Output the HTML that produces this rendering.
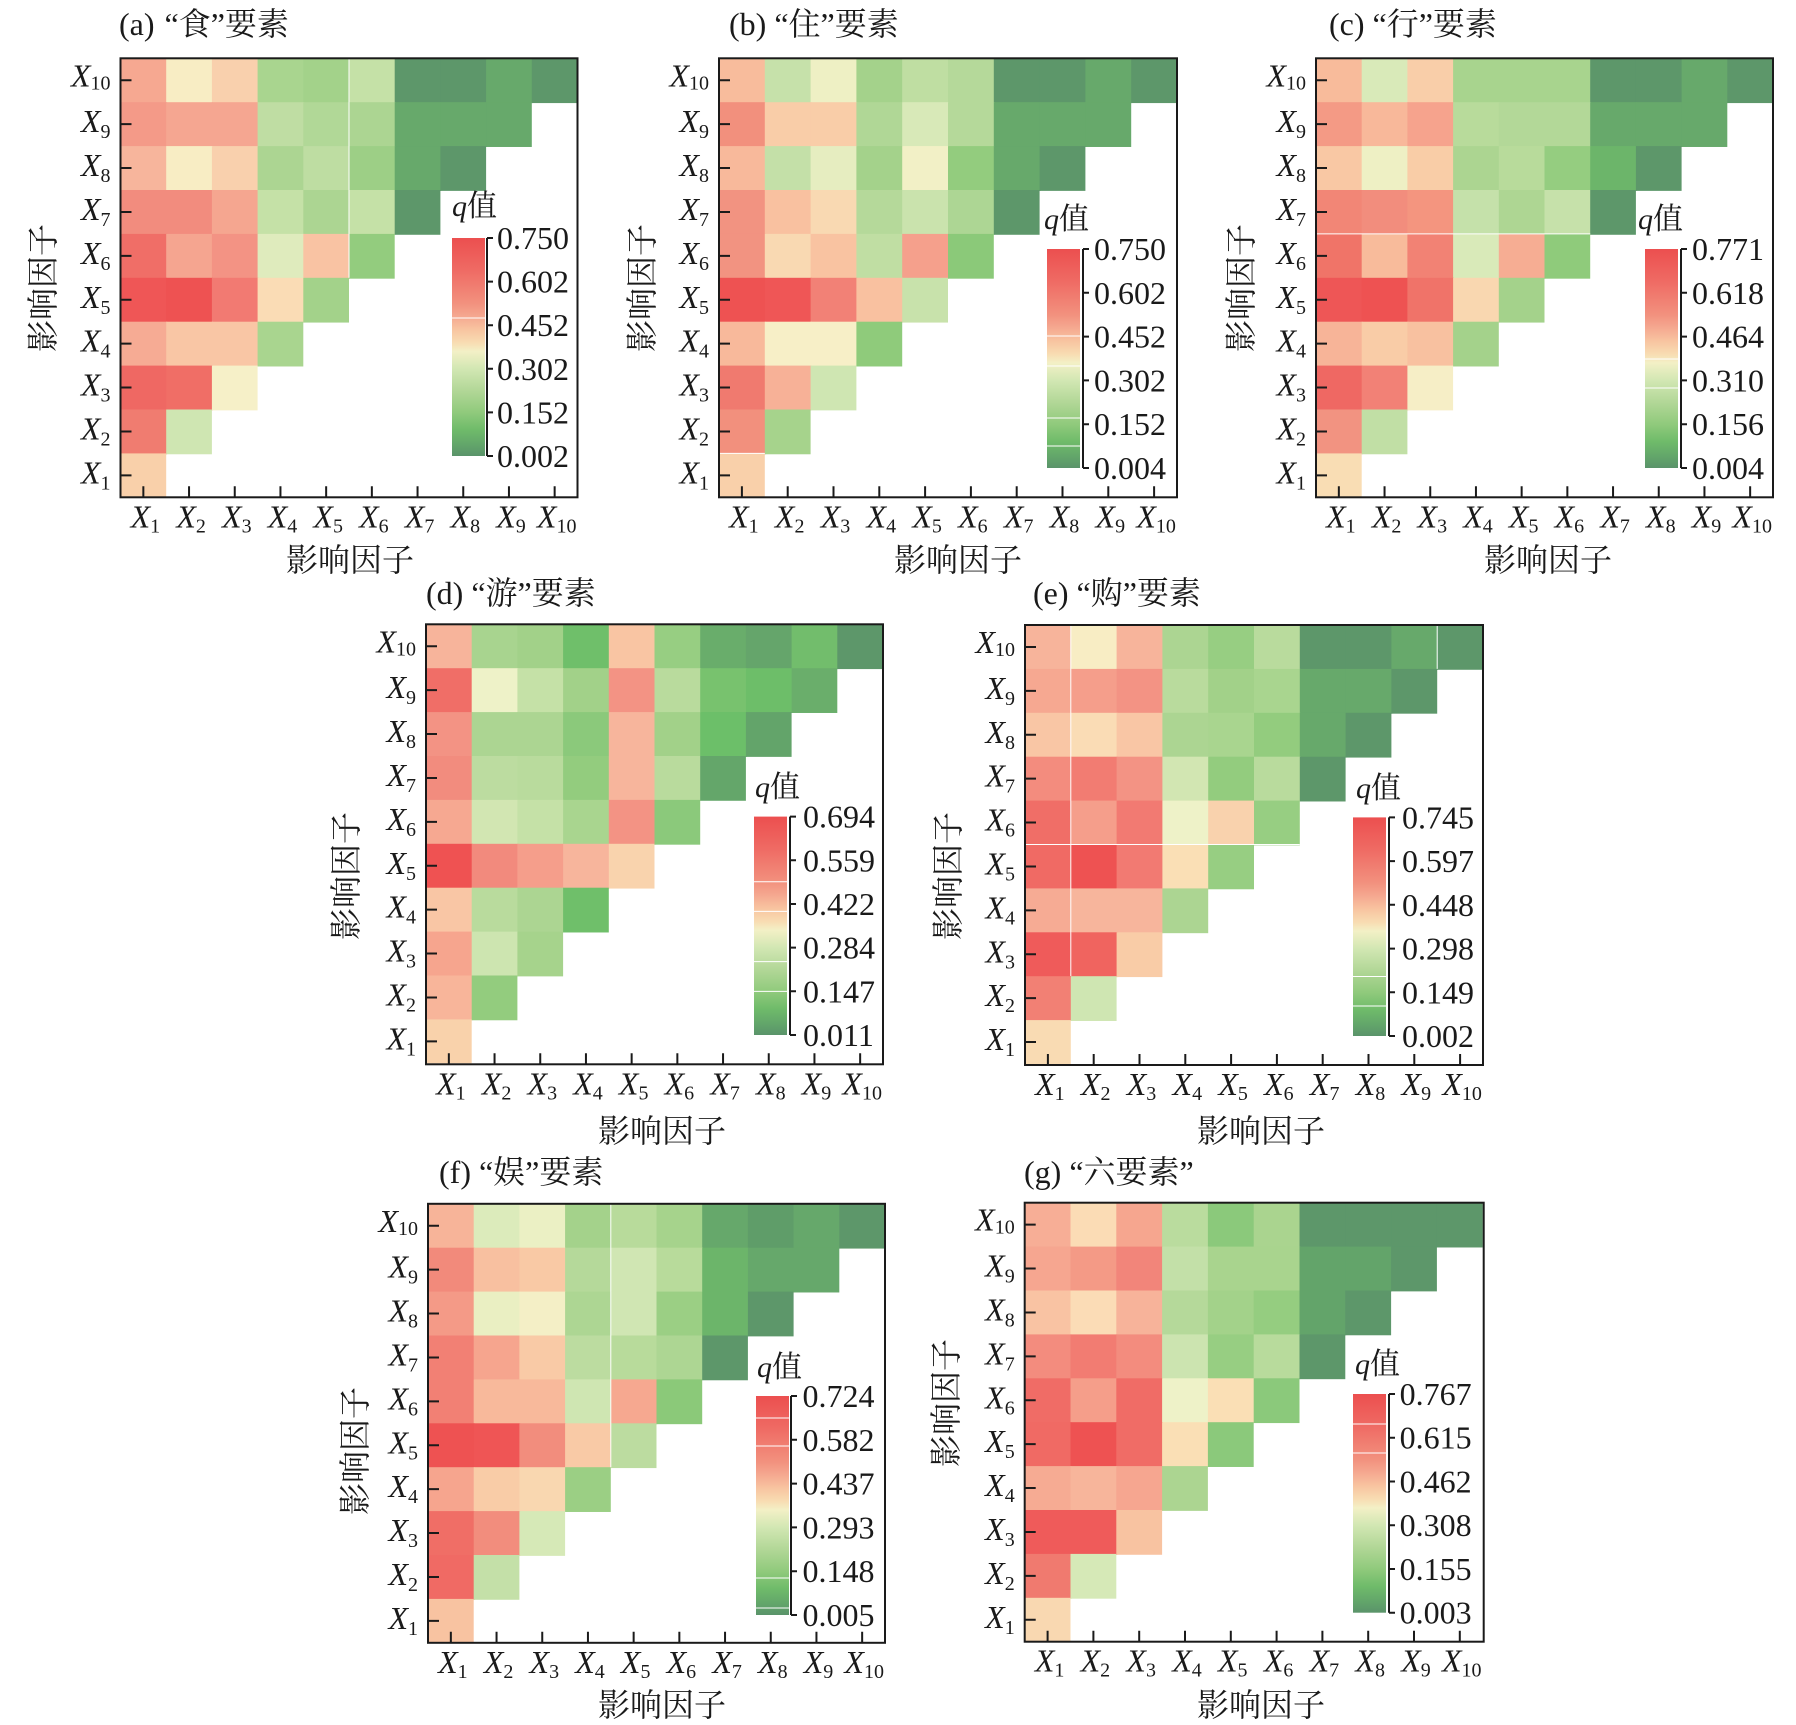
<!DOCTYPE html>
<html><head><meta charset="utf-8"><style>
html,body{margin:0;padding:0;background:#fff}
svg{display:block}
text{font-family:"Liberation Serif","Noto Serif CJK SC",serif;fill:#1a1a1a}
.cj{font-family:"Liberation Serif","Noto Serif CJK SC",serif}
.lb{font-size:32px}
.it{font-style:italic}
</style></head><body>
<svg width="1796" height="1725" viewBox="0 0 1796 1725" xmlns="http://www.w3.org/2000/svg">
<defs>
<linearGradient id="cg" x1="0" y1="0" x2="0" y2="1">
<stop offset="0" stop-color="#ec4f4f"/>
<stop offset="0.15" stop-color="#ef6b64"/>
<stop offset="0.30" stop-color="#f2917e"/>
<stop offset="0.36" stop-color="#f5a890"/>
<stop offset="0.42" stop-color="#f8c4a0"/>
<stop offset="0.48" stop-color="#f8dcb2"/>
<stop offset="0.52" stop-color="#f3f0c6"/>
<stop offset="0.60" stop-color="#d2e7b3"/>
<stop offset="0.70" stop-color="#b2d797"/>
<stop offset="0.80" stop-color="#90ca7c"/>
<stop offset="0.88" stop-color="#6fbb6a"/>
<stop offset="0.95" stop-color="#62a56a"/>
<stop offset="1" stop-color="#5a936a"/>
</linearGradient>
</defs>

<!-- ================= PANEL A ================= -->
<text x="119" y="35" style="font-size:32px">(a)<tspan dx="10">“食”要素</tspan></text>
<g transform="translate(120.5,58.3)">
<g transform="scale(45.7,43.9)">
<rect x="0" y="0" width="1.02" height="1.02" fill="#f6a891"/><rect x="1" y="0" width="1.02" height="1.02" fill="#f8edc4"/><rect x="2" y="0" width="1.02" height="1.02" fill="#f9d0ad"/><rect x="3" y="0" width="1.02" height="1.02" fill="#a9d58f"/><rect x="4" y="0" width="1.02" height="1.02" fill="#a3d28a"/><rect x="5" y="0" width="1.02" height="1.02" fill="#c5e1a7"/><rect x="6" y="0" width="1.02" height="1.02" fill="#5d976a"/><rect x="7" y="0" width="1.02" height="1.02" fill="#5d976a"/><rect x="8" y="0" width="1.02" height="1.02" fill="#67a96b"/><rect x="9" y="0" width="1" height="1.02" fill="#5d976a"/>
<rect x="0" y="1" width="1.02" height="1.02" fill="#f49a88"/><rect x="1" y="1" width="1.02" height="1.02" fill="#f5a691"/><rect x="2" y="1" width="1.02" height="1.02" fill="#f5a691"/><rect x="3" y="1" width="1.02" height="1.02" fill="#bfdda3"/><rect x="4" y="1" width="1.02" height="1.02" fill="#b1d897"/><rect x="5" y="1" width="1.02" height="1.02" fill="#acd592"/><rect x="6" y="1" width="1.02" height="1.02" fill="#67a96b"/><rect x="7" y="1" width="1.02" height="1.02" fill="#67a96b"/><rect x="8" y="1" width="1" height="1.02" fill="#67a96b"/>
<rect x="0" y="2" width="1.02" height="1.02" fill="#f7b59c"/><rect x="1" y="2" width="1.02" height="1.02" fill="#f8edc4"/><rect x="2" y="2" width="1.02" height="1.02" fill="#f9d0ad"/><rect x="3" y="2" width="1.02" height="1.02" fill="#acd592"/><rect x="4" y="2" width="1.02" height="1.02" fill="#bedda2"/><rect x="5" y="2" width="1.02" height="1.02" fill="#9dcf86"/><rect x="6" y="2" width="1.02" height="1.02" fill="#67a96b"/><rect x="7" y="2" width="1" height="1.02" fill="#5d976a"/>
<rect x="0" y="3" width="1.02" height="1.02" fill="#f28c7e"/><rect x="1" y="3" width="1.02" height="1.02" fill="#f28c7e"/><rect x="2" y="3" width="1.02" height="1.02" fill="#f5a690"/><rect x="3" y="3" width="1.02" height="1.02" fill="#c5e1a7"/><rect x="4" y="3" width="1.02" height="1.02" fill="#acd592"/><rect x="5" y="3" width="1.02" height="1.02" fill="#c5e1a7"/><rect x="6" y="3" width="1" height="1.02" fill="#5d976a"/>
<rect x="0" y="4" width="1.02" height="1.02" fill="#f06e67"/><rect x="1" y="4" width="1.02" height="1.02" fill="#f5a590"/><rect x="2" y="4" width="1.02" height="1.02" fill="#f39384"/><rect x="3" y="4" width="1.02" height="1.02" fill="#dfebbd"/><rect x="4" y="4" width="1.02" height="1.02" fill="#f9c3a3"/><rect x="5" y="4" width="1" height="1.02" fill="#93cc7e"/>
<rect x="0" y="5" width="1.02" height="1.02" fill="#ef5656"/><rect x="1" y="5" width="1.02" height="1.02" fill="#ee5252"/><rect x="2" y="5" width="1.02" height="1.02" fill="#f27a72"/><rect x="3" y="5" width="1.02" height="1.02" fill="#fadcb5"/><rect x="4" y="5" width="1" height="1.02" fill="#a3d28a"/>
<rect x="0" y="6" width="1.02" height="1.02" fill="#f6ab94"/><rect x="1" y="6" width="1.02" height="1.02" fill="#f9c6a5"/><rect x="2" y="6" width="1.02" height="1.02" fill="#f9c6a5"/><rect x="3" y="6" width="1" height="1.02" fill="#a9d58f"/>
<rect x="0" y="7" width="1.02" height="1.02" fill="#ef6863"/><rect x="1" y="7" width="1.02" height="1.02" fill="#f06e66"/><rect x="2" y="7" width="1" height="1.02" fill="#f6f0c8"/>
<rect x="0" y="8" width="1.02" height="1.02" fill="#f07c70"/><rect x="1" y="8" width="1" height="1.02" fill="#cfe6b2"/>
<rect x="0" y="9" width="1" height="1" fill="#f9d0aa"/>
</g>
<path d="M228.5,0V219.5" stroke="#fff" stroke-width="1"/>
<rect x="0" y="0" width="457" height="439" fill="none" stroke="#1a1a1a" stroke-width="2"/>
<path d="M0,21.95h11M0,65.85h11M0,109.75h11M0,153.65h11M0,197.55h11M0,241.45h11M0,285.35h11M0,329.25h11M0,373.15h11M0,417.05h11M22.85,439v-11M68.55,439v-11M114.25,439v-11M159.95,439v-11M205.65,439v-11M251.35,439v-11M297.05,439v-11M342.75,439v-11M388.45,439v-11M434.15,439v-11" stroke="#1a1a1a" stroke-width="2"/>
<g class="lb" text-anchor="end">
<text x="-10" y="28"><tspan class="it">X</tspan><tspan font-size="20" dy="3">10</tspan></text>
<text x="-10" y="73.9"><tspan class="it">X</tspan><tspan font-size="20" dy="6">9</tspan></text>
<text x="-10" y="117.8"><tspan class="it">X</tspan><tspan font-size="20" dy="6">8</tspan></text>
<text x="-10" y="161.7"><tspan class="it">X</tspan><tspan font-size="20" dy="6">7</tspan></text>
<text x="-10" y="205.6"><tspan class="it">X</tspan><tspan font-size="20" dy="6">6</tspan></text>
<text x="-10" y="249.5"><tspan class="it">X</tspan><tspan font-size="20" dy="6">5</tspan></text>
<text x="-10" y="293.4"><tspan class="it">X</tspan><tspan font-size="20" dy="6">4</tspan></text>
<text x="-10" y="337.3"><tspan class="it">X</tspan><tspan font-size="20" dy="6">3</tspan></text>
<text x="-10" y="381.2"><tspan class="it">X</tspan><tspan font-size="20" dy="6">2</tspan></text>
<text x="-10" y="425.1"><tspan class="it">X</tspan><tspan font-size="20" dy="6">1</tspan></text>
</g>
<g class="lb" text-anchor="middle">
<text x="24.9" y="469"><tspan class="it">X</tspan><tspan font-size="20" dy="5">1</tspan></text>
<text x="70.6" y="469"><tspan class="it">X</tspan><tspan font-size="20" dy="5">2</tspan></text>
<text x="116.3" y="469"><tspan class="it">X</tspan><tspan font-size="20" dy="5">3</tspan></text>
<text x="162" y="469"><tspan class="it">X</tspan><tspan font-size="20" dy="5">4</tspan></text>
<text x="207.7" y="469"><tspan class="it">X</tspan><tspan font-size="20" dy="5">5</tspan></text>
<text x="253.4" y="469"><tspan class="it">X</tspan><tspan font-size="20" dy="5">6</tspan></text>
<text x="299.1" y="469"><tspan class="it">X</tspan><tspan font-size="20" dy="5">7</tspan></text>
<text x="344.8" y="469"><tspan class="it">X</tspan><tspan font-size="20" dy="5">8</tspan></text>
<text x="390.5" y="469"><tspan class="it">X</tspan><tspan font-size="20" dy="5">9</tspan></text>
<text x="436.2" y="469"><tspan class="it">X</tspan><tspan font-size="20" dy="5">10</tspan></text>
</g>
</g>
<text class="cj" x="350" y="571" text-anchor="middle" style="font-size:32px">影响因子</text>
<text class="cj" transform="translate(43,288) rotate(-90)" y="11" text-anchor="middle" style="font-size:32px">影响因子</text>
<text x="452" y="216" style="font-size:30px"><tspan class="it">q</tspan>值</text>
<rect x="452" y="238" width="33" height="218" fill="url(#cg)"/>
<path d="M452,318h33" stroke="#fff" stroke-width="1"/>
<path d="M487,238V456M487,238h6M487,281.6h6M487,325.2h6M487,368.8h6M487,412.4h6M487,456h6" stroke="#1a1a1a" stroke-width="2" fill="none"/>
<g class="lb"><text x="497" y="249">0.750</text><text x="497" y="292.6">0.602</text><text x="497" y="336.2">0.452</text><text x="497" y="379.8">0.302</text><text x="497" y="423.4">0.152</text><text x="497" y="467">0.002</text></g>

<!-- ================= PANEL B ================= -->
<text x="729" y="35" style="font-size:32px">(b) “住”要素</text>
<g transform="translate(719,58.3)">
<g transform="scale(45.8,43.9)">
<rect x="0" y="0" width="1.02" height="1.02" fill="#f8bc9c"/><rect x="1" y="0" width="1.02" height="1.02" fill="#c6e1aa"/><rect x="2" y="0" width="1.02" height="1.02" fill="#eef0c4"/><rect x="3" y="0" width="1.02" height="1.02" fill="#a4d28b"/><rect x="4" y="0" width="1.02" height="1.02" fill="#bfdea2"/><rect x="5" y="0" width="1.02" height="1.02" fill="#b5d99a"/><rect x="6" y="0" width="1.02" height="1.02" fill="#5d976a"/><rect x="7" y="0" width="1.02" height="1.02" fill="#5d976a"/><rect x="8" y="0" width="1.02" height="1.02" fill="#67a96b"/><rect x="9" y="0" width="1" height="1.02" fill="#5d976a"/>
<rect x="0" y="1" width="1.02" height="1.02" fill="#f2907d"/><rect x="1" y="1" width="1.02" height="1.02" fill="#f9cda8"/><rect x="2" y="1" width="1.02" height="1.02" fill="#f9cda8"/><rect x="3" y="1" width="1.02" height="1.02" fill="#b0d796"/><rect x="4" y="1" width="1.02" height="1.02" fill="#d8e9b8"/><rect x="5" y="1" width="1.02" height="1.02" fill="#b5d99a"/><rect x="6" y="1" width="1.02" height="1.02" fill="#67a96b"/><rect x="7" y="1" width="1.02" height="1.02" fill="#67a96b"/><rect x="8" y="1" width="1" height="1.02" fill="#67a96b"/>
<rect x="0" y="2" width="1.02" height="1.02" fill="#f8b99b"/><rect x="1" y="2" width="1.02" height="1.02" fill="#c4e0a8"/><rect x="2" y="2" width="1.02" height="1.02" fill="#e6edc0"/><rect x="3" y="2" width="1.02" height="1.02" fill="#a4d28b"/><rect x="4" y="2" width="1.02" height="1.02" fill="#f2f0c6"/><rect x="5" y="2" width="1.02" height="1.02" fill="#93cc7e"/><rect x="6" y="2" width="1.02" height="1.02" fill="#67a96b"/><rect x="7" y="2" width="1" height="1.02" fill="#5d976a"/>
<rect x="0" y="3" width="1.02" height="1.02" fill="#f29381"/><rect x="1" y="3" width="1.02" height="1.02" fill="#f9c1a0"/><rect x="2" y="3" width="1.02" height="1.02" fill="#f9d9b2"/><rect x="3" y="3" width="1.02" height="1.02" fill="#b5d99a"/><rect x="4" y="3" width="1.02" height="1.02" fill="#cae3ad"/><rect x="5" y="3" width="1.02" height="1.02" fill="#add694"/><rect x="6" y="3" width="1" height="1.02" fill="#5d976a"/>
<rect x="0" y="4" width="1.02" height="1.02" fill="#f29381"/><rect x="1" y="4" width="1.02" height="1.02" fill="#f9d9b2"/><rect x="2" y="4" width="1.02" height="1.02" fill="#f9c3a1"/><rect x="3" y="4" width="1.02" height="1.02" fill="#c0dea3"/><rect x="4" y="4" width="1.02" height="1.02" fill="#f5a08c"/><rect x="5" y="4" width="1" height="1.02" fill="#8bc979"/>
<rect x="0" y="5" width="1.02" height="1.02" fill="#ee5252"/><rect x="1" y="5" width="1.02" height="1.02" fill="#ef5656"/><rect x="2" y="5" width="1.02" height="1.02" fill="#f28176"/><rect x="3" y="5" width="1.02" height="1.02" fill="#f9c1a0"/><rect x="4" y="5" width="1" height="1.02" fill="#c8e2ab"/>
<rect x="0" y="6" width="1.02" height="1.02" fill="#f8b99b"/><rect x="1" y="6" width="1.02" height="1.02" fill="#f7efc7"/><rect x="2" y="6" width="1.02" height="1.02" fill="#f7efc7"/><rect x="3" y="6" width="1" height="1.02" fill="#8fcb7b"/>
<rect x="0" y="7" width="1.02" height="1.02" fill="#f07a6f"/><rect x="1" y="7" width="1.02" height="1.02" fill="#f7b197"/><rect x="2" y="7" width="1" height="1.02" fill="#cfe6b2"/>
<rect x="0" y="8" width="1.02" height="1.02" fill="#f2907d"/><rect x="1" y="8" width="1" height="1.02" fill="#a6d38c"/>
<rect x="0" y="9" width="1" height="1" fill="#f9d0aa"/>
</g>
<path d="M0,395.1h45.8" stroke="#fff" stroke-width="1"/>
<rect x="0" y="0" width="458" height="439" fill="none" stroke="#1a1a1a" stroke-width="2"/>
<path d="M0,21.95h11M0,65.85h11M0,109.75h11M0,153.65h11M0,197.55h11M0,241.45h11M0,285.35h11M0,329.25h11M0,373.15h11M0,417.05h11M22.9,439v-11M68.7,439v-11M114.5,439v-11M160.3,439v-11M206.1,439v-11M251.9,439v-11M297.7,439v-11M343.5,439v-11M389.3,439v-11M435.1,439v-11" stroke="#1a1a1a" stroke-width="2"/>
<g class="lb" text-anchor="end">
<text x="-10" y="28"><tspan class="it">X</tspan><tspan font-size="20" dy="3">10</tspan></text>
<text x="-10" y="73.9"><tspan class="it">X</tspan><tspan font-size="20" dy="6">9</tspan></text>
<text x="-10" y="117.8"><tspan class="it">X</tspan><tspan font-size="20" dy="6">8</tspan></text>
<text x="-10" y="161.7"><tspan class="it">X</tspan><tspan font-size="20" dy="6">7</tspan></text>
<text x="-10" y="205.6"><tspan class="it">X</tspan><tspan font-size="20" dy="6">6</tspan></text>
<text x="-10" y="249.5"><tspan class="it">X</tspan><tspan font-size="20" dy="6">5</tspan></text>
<text x="-10" y="293.4"><tspan class="it">X</tspan><tspan font-size="20" dy="6">4</tspan></text>
<text x="-10" y="337.3"><tspan class="it">X</tspan><tspan font-size="20" dy="6">3</tspan></text>
<text x="-10" y="381.2"><tspan class="it">X</tspan><tspan font-size="20" dy="6">2</tspan></text>
<text x="-10" y="425.1"><tspan class="it">X</tspan><tspan font-size="20" dy="6">1</tspan></text>
</g>
<g class="lb" text-anchor="middle">
<text x="24.9" y="469"><tspan class="it">X</tspan><tspan font-size="20" dy="5">1</tspan></text>
<text x="70.7" y="469"><tspan class="it">X</tspan><tspan font-size="20" dy="5">2</tspan></text>
<text x="116.5" y="469"><tspan class="it">X</tspan><tspan font-size="20" dy="5">3</tspan></text>
<text x="162.3" y="469"><tspan class="it">X</tspan><tspan font-size="20" dy="5">4</tspan></text>
<text x="208.1" y="469"><tspan class="it">X</tspan><tspan font-size="20" dy="5">5</tspan></text>
<text x="253.9" y="469"><tspan class="it">X</tspan><tspan font-size="20" dy="5">6</tspan></text>
<text x="299.7" y="469"><tspan class="it">X</tspan><tspan font-size="20" dy="5">7</tspan></text>
<text x="345.5" y="469"><tspan class="it">X</tspan><tspan font-size="20" dy="5">8</tspan></text>
<text x="391.3" y="469"><tspan class="it">X</tspan><tspan font-size="20" dy="5">9</tspan></text>
<text x="437.1" y="469"><tspan class="it">X</tspan><tspan font-size="20" dy="5">10</tspan></text>
</g>
</g>
<text class="cj" x="958" y="571" text-anchor="middle" style="font-size:32px">影响因子</text>
<text class="cj" transform="translate(642,288) rotate(-90)" y="11" text-anchor="middle" style="font-size:32px">影响因子</text>
<text x="1044" y="229" style="font-size:30px"><tspan class="it">q</tspan>值</text>
<rect x="1047" y="249" width="33" height="219" fill="url(#cg)"/>
<path d="M1047,336h33M1047,366h33M1047,418h33M1047,446h33" stroke="#fff" stroke-width="1"/>
<path d="M1083,249V468M1083,249h6M1083,292.8h6M1083,336.6h6M1083,380.4h6M1083,424.2h6M1083,468h6" stroke="#1a1a1a" stroke-width="2" fill="none"/>
<g class="lb"><text x="1094" y="260">0.750</text><text x="1094" y="303.8">0.602</text><text x="1094" y="347.6">0.452</text><text x="1094" y="391.4">0.302</text><text x="1094" y="435.2">0.152</text><text x="1094" y="479">0.004</text></g>

<!-- ================= PANEL C ================= -->
<text x="1329" y="35" style="font-size:32px">(c) “行”要素</text>
<g transform="translate(1316,58.3)">
<g transform="scale(45.7,43.9)">
<rect x="0" y="0" width="1.02" height="1.02" fill="#f8bb9b"/><rect x="1" y="0" width="1.02" height="1.02" fill="#d9eab9"/><rect x="2" y="0" width="1.02" height="1.02" fill="#f9cea9"/><rect x="3" y="0" width="1.02" height="1.02" fill="#a8d48e"/><rect x="4" y="0" width="1.02" height="1.02" fill="#a8d48e"/><rect x="5" y="0" width="1.02" height="1.02" fill="#a8d48e"/><rect x="6" y="0" width="1.02" height="1.02" fill="#5d976a"/><rect x="7" y="0" width="1.02" height="1.02" fill="#5d976a"/><rect x="8" y="0" width="1.02" height="1.02" fill="#67a96b"/><rect x="9" y="0" width="1" height="1.02" fill="#5d976a"/>
<rect x="0" y="1" width="1.02" height="1.02" fill="#f49a85"/><rect x="1" y="1" width="1.02" height="1.02" fill="#f8b89a"/><rect x="2" y="1" width="1.02" height="1.02" fill="#f6a38d"/><rect x="3" y="1" width="1.02" height="1.02" fill="#b8db9b"/><rect x="4" y="1" width="1.02" height="1.02" fill="#b3d898"/><rect x="5" y="1" width="1.02" height="1.02" fill="#b3d898"/><rect x="6" y="1" width="1.02" height="1.02" fill="#67a96b"/><rect x="7" y="1" width="1.02" height="1.02" fill="#67a96b"/><rect x="8" y="1" width="1" height="1.02" fill="#67a96b"/>
<rect x="0" y="2" width="1.02" height="1.02" fill="#f9c8a4"/><rect x="1" y="2" width="1.02" height="1.02" fill="#eef0c4"/><rect x="2" y="2" width="1.02" height="1.02" fill="#f9cda7"/><rect x="3" y="2" width="1.02" height="1.02" fill="#acd591"/><rect x="4" y="2" width="1.02" height="1.02" fill="#b8db9b"/><rect x="5" y="2" width="1.02" height="1.02" fill="#95cd80"/><rect x="6" y="2" width="1.02" height="1.02" fill="#6cb56a"/><rect x="7" y="2" width="1" height="1.02" fill="#5d976a"/>
<rect x="0" y="3" width="1.02" height="1.02" fill="#f28676"/><rect x="1" y="3" width="1.02" height="1.02" fill="#f28d7d"/><rect x="2" y="3" width="1.02" height="1.02" fill="#f4957f"/><rect x="3" y="3" width="1.02" height="1.02" fill="#c5e1aa"/><rect x="4" y="3" width="1.02" height="1.02" fill="#aed693"/><rect x="5" y="3" width="1.02" height="1.02" fill="#c6e1aa"/><rect x="6" y="3" width="1" height="1.02" fill="#5d976a"/>
<rect x="0" y="4" width="1.02" height="1.02" fill="#f07468"/><rect x="1" y="4" width="1.02" height="1.02" fill="#f8bb9b"/><rect x="2" y="4" width="1.02" height="1.02" fill="#f28274"/><rect x="3" y="4" width="1.02" height="1.02" fill="#d9eab9"/><rect x="4" y="4" width="1.02" height="1.02" fill="#f6ad93"/><rect x="5" y="4" width="1" height="1.02" fill="#8fcb7b"/>
<rect x="0" y="5" width="1.02" height="1.02" fill="#ee5656"/><rect x="1" y="5" width="1.02" height="1.02" fill="#ee5252"/><rect x="2" y="5" width="1.02" height="1.02" fill="#f07369"/><rect x="3" y="5" width="1.02" height="1.02" fill="#f9d7b0"/><rect x="4" y="5" width="1" height="1.02" fill="#a4d28b"/>
<rect x="0" y="6" width="1.02" height="1.02" fill="#f7b498"/><rect x="1" y="6" width="1.02" height="1.02" fill="#f9cca7"/><rect x="2" y="6" width="1.02" height="1.02" fill="#f8c1a0"/><rect x="3" y="6" width="1" height="1.02" fill="#a4d28b"/>
<rect x="0" y="7" width="1.02" height="1.02" fill="#ef6863"/><rect x="1" y="7" width="1.02" height="1.02" fill="#f28176"/><rect x="2" y="7" width="1" height="1.02" fill="#f6eec6"/>
<rect x="0" y="8" width="1.02" height="1.02" fill="#f29381"/><rect x="1" y="8" width="1" height="1.02" fill="#c1dfa5"/>
<rect x="0" y="9" width="1" height="1" fill="#f9ddb4"/>
</g>
<path d="M0,175.6h274.2" stroke="#fff" stroke-width="1"/>
<rect x="0" y="0" width="457" height="439" fill="none" stroke="#1a1a1a" stroke-width="2"/>
<path d="M0,21.95h11M0,65.85h11M0,109.75h11M0,153.65h11M0,197.55h11M0,241.45h11M0,285.35h11M0,329.25h11M0,373.15h11M0,417.05h11M22.85,439v-11M68.55,439v-11M114.25,439v-11M159.95,439v-11M205.65,439v-11M251.35,439v-11M297.05,439v-11M342.75,439v-11M388.45,439v-11M434.15,439v-11" stroke="#1a1a1a" stroke-width="2"/>
<g class="lb" text-anchor="end">
<text x="-10" y="28"><tspan class="it">X</tspan><tspan font-size="20" dy="3">10</tspan></text>
<text x="-10" y="73.9"><tspan class="it">X</tspan><tspan font-size="20" dy="6">9</tspan></text>
<text x="-10" y="117.8"><tspan class="it">X</tspan><tspan font-size="20" dy="6">8</tspan></text>
<text x="-10" y="161.7"><tspan class="it">X</tspan><tspan font-size="20" dy="6">7</tspan></text>
<text x="-10" y="205.6"><tspan class="it">X</tspan><tspan font-size="20" dy="6">6</tspan></text>
<text x="-10" y="249.5"><tspan class="it">X</tspan><tspan font-size="20" dy="6">5</tspan></text>
<text x="-10" y="293.4"><tspan class="it">X</tspan><tspan font-size="20" dy="6">4</tspan></text>
<text x="-10" y="337.3"><tspan class="it">X</tspan><tspan font-size="20" dy="6">3</tspan></text>
<text x="-10" y="381.2"><tspan class="it">X</tspan><tspan font-size="20" dy="6">2</tspan></text>
<text x="-10" y="425.1"><tspan class="it">X</tspan><tspan font-size="20" dy="6">1</tspan></text>
</g>
<g class="lb" text-anchor="middle">
<text x="24.9" y="469"><tspan class="it">X</tspan><tspan font-size="20" dy="5">1</tspan></text>
<text x="70.6" y="469"><tspan class="it">X</tspan><tspan font-size="20" dy="5">2</tspan></text>
<text x="116.3" y="469"><tspan class="it">X</tspan><tspan font-size="20" dy="5">3</tspan></text>
<text x="162" y="469"><tspan class="it">X</tspan><tspan font-size="20" dy="5">4</tspan></text>
<text x="207.7" y="469"><tspan class="it">X</tspan><tspan font-size="20" dy="5">5</tspan></text>
<text x="253.4" y="469"><tspan class="it">X</tspan><tspan font-size="20" dy="5">6</tspan></text>
<text x="299.1" y="469"><tspan class="it">X</tspan><tspan font-size="20" dy="5">7</tspan></text>
<text x="344.8" y="469"><tspan class="it">X</tspan><tspan font-size="20" dy="5">8</tspan></text>
<text x="390.5" y="469"><tspan class="it">X</tspan><tspan font-size="20" dy="5">9</tspan></text>
<text x="436.2" y="469"><tspan class="it">X</tspan><tspan font-size="20" dy="5">10</tspan></text>
</g>
</g>
<text class="cj" x="1548" y="571" text-anchor="middle" style="font-size:32px">影响因子</text>
<text class="cj" transform="translate(1241,288) rotate(-90)" y="11" text-anchor="middle" style="font-size:32px">影响因子</text>
<text x="1638" y="229" style="font-size:30px"><tspan class="it">q</tspan>值</text>
<rect x="1645" y="249" width="33" height="219" fill="url(#cg)"/>
<path d="M1645,359h33M1645,388h33" stroke="#fff" stroke-width="1"/>
<path d="M1681,249V468M1681,249h6M1681,292.8h6M1681,336.6h6M1681,380.4h6M1681,424.2h6M1681,468h6" stroke="#1a1a1a" stroke-width="2" fill="none"/>
<g class="lb"><text x="1692" y="260">0.771</text><text x="1692" y="303.8">0.618</text><text x="1692" y="347.6">0.464</text><text x="1692" y="391.4">0.310</text><text x="1692" y="435.2">0.156</text><text x="1692" y="479">0.004</text></g>

<!-- ================= PANEL D ================= -->
<text x="426" y="604" style="font-size:32px">(d) “游”要素</text>
<g transform="translate(426,624.3)">
<g transform="scale(45.7,43.9)">
<rect x="0" y="0" width="1.02" height="1.02" fill="#f7b49b"/><rect x="1" y="0" width="1.02" height="1.02" fill="#a8d48f"/><rect x="2" y="0" width="1.02" height="1.02" fill="#a2d189"/><rect x="3" y="0" width="1.02" height="1.02" fill="#6fbf6a"/><rect x="4" y="0" width="1.02" height="1.02" fill="#f9c5a3"/><rect x="5" y="0" width="1.02" height="1.02" fill="#97ce82"/><rect x="6" y="0" width="1.02" height="1.02" fill="#69ad6b"/><rect x="7" y="0" width="1.02" height="1.02" fill="#65a56b"/><rect x="8" y="0" width="1.02" height="1.02" fill="#72bd6c"/><rect x="9" y="0" width="1" height="1.02" fill="#5d976a"/>
<rect x="0" y="1" width="1.02" height="1.02" fill="#f06e67"/><rect x="1" y="1" width="1.02" height="1.02" fill="#eef2c8"/><rect x="2" y="1" width="1.02" height="1.02" fill="#c5e1a7"/><rect x="3" y="1" width="1.02" height="1.02" fill="#a2d189"/><rect x="4" y="1" width="1.02" height="1.02" fill="#f39384"/><rect x="5" y="1" width="1.02" height="1.02" fill="#b9db9d"/><rect x="6" y="1" width="1.02" height="1.02" fill="#78c26e"/><rect x="7" y="1" width="1.02" height="1.02" fill="#6dbe69"/><rect x="8" y="1" width="1" height="1.02" fill="#6aae6b"/>
<rect x="0" y="2" width="1.02" height="1.02" fill="#f39384"/><rect x="1" y="2" width="1.02" height="1.02" fill="#acd592"/><rect x="2" y="2" width="1.02" height="1.02" fill="#acd592"/><rect x="3" y="2" width="1.02" height="1.02" fill="#8bc97b"/><rect x="4" y="2" width="1.02" height="1.02" fill="#f7b59c"/><rect x="5" y="2" width="1.02" height="1.02" fill="#a2d189"/><rect x="6" y="2" width="1.02" height="1.02" fill="#6cbf69"/><rect x="7" y="2" width="1" height="1.02" fill="#63a46a"/>
<rect x="0" y="3" width="1.02" height="1.02" fill="#f28c7e"/><rect x="1" y="3" width="1.02" height="1.02" fill="#bcdca0"/><rect x="2" y="3" width="1.02" height="1.02" fill="#b9db9d"/><rect x="3" y="3" width="1.02" height="1.02" fill="#93cc7e"/><rect x="4" y="3" width="1.02" height="1.02" fill="#f7b59c"/><rect x="5" y="3" width="1.02" height="1.02" fill="#b9db9d"/><rect x="6" y="3" width="1" height="1.02" fill="#64a66a"/>
<rect x="0" y="4" width="1.02" height="1.02" fill="#f6a891"/><rect x="1" y="4" width="1.02" height="1.02" fill="#d2e6b2"/><rect x="2" y="4" width="1.02" height="1.02" fill="#c5e1a7"/><rect x="3" y="4" width="1.02" height="1.02" fill="#a9d58f"/><rect x="4" y="4" width="1.02" height="1.02" fill="#f39384"/><rect x="5" y="4" width="1" height="1.02" fill="#8bc97b"/>
<rect x="0" y="5" width="1.02" height="1.02" fill="#ef5252"/><rect x="1" y="5" width="1.02" height="1.02" fill="#f28a7d"/><rect x="2" y="5" width="1.02" height="1.02" fill="#f59e8b"/><rect x="3" y="5" width="1.02" height="1.02" fill="#f7b59c"/><rect x="4" y="5" width="1" height="1.02" fill="#f9d3ad"/>
<rect x="0" y="6" width="1.02" height="1.02" fill="#f9c6a5"/><rect x="1" y="6" width="1.02" height="1.02" fill="#b9db9d"/><rect x="2" y="6" width="1.02" height="1.02" fill="#acd592"/><rect x="3" y="6" width="1" height="1.02" fill="#6fbf6a"/>
<rect x="0" y="7" width="1.02" height="1.02" fill="#f6a58e"/><rect x="1" y="7" width="1.02" height="1.02" fill="#cde5b0"/><rect x="2" y="7" width="1" height="1.02" fill="#a6d38c"/>
<rect x="0" y="8" width="1.02" height="1.02" fill="#f8b59a"/><rect x="1" y="8" width="1" height="1.02" fill="#93cc7e"/>
<rect x="0" y="9" width="1" height="1" fill="#f9d2ab"/>
</g>
<rect x="0" y="0" width="457" height="440" fill="none" stroke="#1a1a1a" stroke-width="2"/>
<path d="M0,21.95h11M0,65.85h11M0,109.75h11M0,153.65h11M0,197.55h11M0,241.45h11M0,285.35h11M0,329.25h11M0,373.15h11M0,417.05h11M22.85,440v-11M68.55,440v-11M114.25,440v-11M159.95,440v-11M205.65,440v-11M251.35,440v-11M297.05,440v-11M342.75,440v-11M388.45,440v-11M434.15,440v-11" stroke="#1a1a1a" stroke-width="2"/>
<g class="lb" text-anchor="end">
<text x="-10" y="28"><tspan class="it">X</tspan><tspan font-size="20" dy="3">10</tspan></text>
<text x="-10" y="73.9"><tspan class="it">X</tspan><tspan font-size="20" dy="6">9</tspan></text>
<text x="-10" y="117.8"><tspan class="it">X</tspan><tspan font-size="20" dy="6">8</tspan></text>
<text x="-10" y="161.7"><tspan class="it">X</tspan><tspan font-size="20" dy="6">7</tspan></text>
<text x="-10" y="205.6"><tspan class="it">X</tspan><tspan font-size="20" dy="6">6</tspan></text>
<text x="-10" y="249.5"><tspan class="it">X</tspan><tspan font-size="20" dy="6">5</tspan></text>
<text x="-10" y="293.4"><tspan class="it">X</tspan><tspan font-size="20" dy="6">4</tspan></text>
<text x="-10" y="337.3"><tspan class="it">X</tspan><tspan font-size="20" dy="6">3</tspan></text>
<text x="-10" y="381.2"><tspan class="it">X</tspan><tspan font-size="20" dy="6">2</tspan></text>
<text x="-10" y="425.1"><tspan class="it">X</tspan><tspan font-size="20" dy="6">1</tspan></text>
</g>
<g class="lb" text-anchor="middle">
<text x="24.9" y="470"><tspan class="it">X</tspan><tspan font-size="20" dy="5">1</tspan></text>
<text x="70.6" y="470"><tspan class="it">X</tspan><tspan font-size="20" dy="5">2</tspan></text>
<text x="116.3" y="470"><tspan class="it">X</tspan><tspan font-size="20" dy="5">3</tspan></text>
<text x="162" y="470"><tspan class="it">X</tspan><tspan font-size="20" dy="5">4</tspan></text>
<text x="207.7" y="470"><tspan class="it">X</tspan><tspan font-size="20" dy="5">5</tspan></text>
<text x="253.4" y="470"><tspan class="it">X</tspan><tspan font-size="20" dy="5">6</tspan></text>
<text x="299.1" y="470"><tspan class="it">X</tspan><tspan font-size="20" dy="5">7</tspan></text>
<text x="344.8" y="470"><tspan class="it">X</tspan><tspan font-size="20" dy="5">8</tspan></text>
<text x="390.5" y="470"><tspan class="it">X</tspan><tspan font-size="20" dy="5">9</tspan></text>
<text x="436.2" y="470"><tspan class="it">X</tspan><tspan font-size="20" dy="5">10</tspan></text>
</g>
</g>
<text class="cj" x="662" y="1142" text-anchor="middle" style="font-size:32px">影响因子</text>
<text class="cj" transform="translate(346,876) rotate(-90)" y="11" text-anchor="middle" style="font-size:32px">影响因子</text>
<text x="755" y="797" style="font-size:30px"><tspan class="it">q</tspan>值</text>
<rect x="754" y="816.6" width="33" height="218.4" fill="url(#cg)"/>
<path d="M754,881.7h33M754,911.4h33M754,961.6h33M754,991.4h33" stroke="#fff" stroke-width="1"/>
<path d="M790,816.6V1035M790,816.6h6M790,860.3h6M790,904h6M790,947.6h6M790,991.3h6M790,1035h6" stroke="#1a1a1a" stroke-width="2" fill="none"/>
<g class="lb"><text x="803" y="827.6">0.694</text><text x="803" y="871.3">0.559</text><text x="803" y="915">0.422</text><text x="803" y="958.6">0.284</text><text x="803" y="1002.3">0.147</text><text x="803" y="1046">0.011</text></g>

<!-- ================= PANEL E ================= -->
<text x="1033" y="604" style="font-size:32px">(e) “购”要素</text>
<g transform="translate(1025,625)">
<g transform="scale(45.8,43.9)">
<rect x="0" y="0" width="1.02" height="1.02" fill="#f7b49b"/><rect x="1" y="0" width="1.02" height="1.02" fill="#f8edc4"/><rect x="2" y="0" width="1.02" height="1.02" fill="#f7b49b"/><rect x="3" y="0" width="1.02" height="1.02" fill="#acd592"/><rect x="4" y="0" width="1.02" height="1.02" fill="#97ce82"/><rect x="5" y="0" width="1.02" height="1.02" fill="#b9db9d"/><rect x="6" y="0" width="1.02" height="1.02" fill="#5d976a"/><rect x="7" y="0" width="1.02" height="1.02" fill="#5d976a"/><rect x="8" y="0" width="1.02" height="1.02" fill="#67a96b"/><rect x="9" y="0" width="1" height="1.02" fill="#5d976a"/>
<rect x="0" y="1" width="1.02" height="1.02" fill="#f6a891"/><rect x="1" y="1" width="1.02" height="1.02" fill="#f59e8b"/><rect x="2" y="1" width="1.02" height="1.02" fill="#f39384"/><rect x="3" y="1" width="1.02" height="1.02" fill="#b9db9d"/><rect x="4" y="1" width="1.02" height="1.02" fill="#a2d189"/><rect x="5" y="1" width="1.02" height="1.02" fill="#a9d58f"/><rect x="6" y="1" width="1.02" height="1.02" fill="#67a96b"/><rect x="7" y="1" width="1.02" height="1.02" fill="#67a96b"/><rect x="8" y="1" width="1" height="1.02" fill="#5d976a"/>
<rect x="0" y="2" width="1.02" height="1.02" fill="#f9c6a5"/><rect x="1" y="2" width="1.02" height="1.02" fill="#fadcb5"/><rect x="2" y="2" width="1.02" height="1.02" fill="#f9c6a5"/><rect x="3" y="2" width="1.02" height="1.02" fill="#acd592"/><rect x="4" y="2" width="1.02" height="1.02" fill="#a9d58f"/><rect x="5" y="2" width="1.02" height="1.02" fill="#93cc7e"/><rect x="6" y="2" width="1.02" height="1.02" fill="#67a96b"/><rect x="7" y="2" width="1" height="1.02" fill="#5d976a"/>
<rect x="0" y="3" width="1.02" height="1.02" fill="#f38c7e"/><rect x="1" y="3" width="1.02" height="1.02" fill="#f27c72"/><rect x="2" y="3" width="1.02" height="1.02" fill="#f39384"/><rect x="3" y="3" width="1.02" height="1.02" fill="#d2e6b2"/><rect x="4" y="3" width="1.02" height="1.02" fill="#93cc7e"/><rect x="5" y="3" width="1.02" height="1.02" fill="#b9db9d"/><rect x="6" y="3" width="1" height="1.02" fill="#5d976a"/>
<rect x="0" y="4" width="1.02" height="1.02" fill="#f06e67"/><rect x="1" y="4" width="1.02" height="1.02" fill="#f59e8b"/><rect x="2" y="4" width="1.02" height="1.02" fill="#f27a72"/><rect x="3" y="4" width="1.02" height="1.02" fill="#eef2c8"/><rect x="4" y="4" width="1.02" height="1.02" fill="#f9d2ad"/><rect x="5" y="4" width="1" height="1.02" fill="#97ce82"/>
<rect x="0" y="5" width="1.02" height="1.02" fill="#f06a64"/><rect x="1" y="5" width="1.02" height="1.02" fill="#ee5252"/><rect x="2" y="5" width="1.02" height="1.02" fill="#f27a72"/><rect x="3" y="5" width="1.02" height="1.02" fill="#fadfb5"/><rect x="4" y="5" width="1" height="1.02" fill="#97ce82"/>
<rect x="0" y="6" width="1.02" height="1.02" fill="#f6ab94"/><rect x="1" y="6" width="1.02" height="1.02" fill="#f7b59c"/><rect x="2" y="6" width="1.02" height="1.02" fill="#f7b59c"/><rect x="3" y="6" width="1" height="1.02" fill="#acd592"/>
<rect x="0" y="7" width="1.02" height="1.02" fill="#ef5b5a"/><rect x="1" y="7" width="1.02" height="1.02" fill="#f0645f"/><rect x="2" y="7" width="1" height="1.02" fill="#f9cca7"/>
<rect x="0" y="8" width="1.02" height="1.02" fill="#f28074"/><rect x="1" y="8" width="1" height="1.02" fill="#cfe6b2"/>
<rect x="0" y="9" width="1" height="1" fill="#f9dbb3"/>
</g>
<path d="M45.8,0V351M0,219.5h274.8M412.2,0V43.9" stroke="#fff" stroke-width="1"/>
<rect x="0" y="0" width="458" height="440" fill="none" stroke="#1a1a1a" stroke-width="2"/>
<path d="M0,21.95h11M0,65.85h11M0,109.75h11M0,153.65h11M0,197.55h11M0,241.45h11M0,285.35h11M0,329.25h11M0,373.15h11M0,417.05h11M22.9,440v-11M68.7,440v-11M114.5,440v-11M160.3,440v-11M206.1,440v-11M251.9,440v-11M297.7,440v-11M343.5,440v-11M389.3,440v-11M435.1,440v-11" stroke="#1a1a1a" stroke-width="2"/>
<g class="lb" text-anchor="end">
<text x="-10" y="28"><tspan class="it">X</tspan><tspan font-size="20" dy="3">10</tspan></text>
<text x="-10" y="73.9"><tspan class="it">X</tspan><tspan font-size="20" dy="6">9</tspan></text>
<text x="-10" y="117.8"><tspan class="it">X</tspan><tspan font-size="20" dy="6">8</tspan></text>
<text x="-10" y="161.7"><tspan class="it">X</tspan><tspan font-size="20" dy="6">7</tspan></text>
<text x="-10" y="205.6"><tspan class="it">X</tspan><tspan font-size="20" dy="6">6</tspan></text>
<text x="-10" y="249.5"><tspan class="it">X</tspan><tspan font-size="20" dy="6">5</tspan></text>
<text x="-10" y="293.4"><tspan class="it">X</tspan><tspan font-size="20" dy="6">4</tspan></text>
<text x="-10" y="337.3"><tspan class="it">X</tspan><tspan font-size="20" dy="6">3</tspan></text>
<text x="-10" y="381.2"><tspan class="it">X</tspan><tspan font-size="20" dy="6">2</tspan></text>
<text x="-10" y="425.1"><tspan class="it">X</tspan><tspan font-size="20" dy="6">1</tspan></text>
</g>
<g class="lb" text-anchor="middle">
<text x="24.9" y="470"><tspan class="it">X</tspan><tspan font-size="20" dy="5">1</tspan></text>
<text x="70.7" y="470"><tspan class="it">X</tspan><tspan font-size="20" dy="5">2</tspan></text>
<text x="116.5" y="470"><tspan class="it">X</tspan><tspan font-size="20" dy="5">3</tspan></text>
<text x="162.3" y="470"><tspan class="it">X</tspan><tspan font-size="20" dy="5">4</tspan></text>
<text x="208.1" y="470"><tspan class="it">X</tspan><tspan font-size="20" dy="5">5</tspan></text>
<text x="253.9" y="470"><tspan class="it">X</tspan><tspan font-size="20" dy="5">6</tspan></text>
<text x="299.7" y="470"><tspan class="it">X</tspan><tspan font-size="20" dy="5">7</tspan></text>
<text x="345.5" y="470"><tspan class="it">X</tspan><tspan font-size="20" dy="5">8</tspan></text>
<text x="391.3" y="470"><tspan class="it">X</tspan><tspan font-size="20" dy="5">9</tspan></text>
<text x="437.1" y="470"><tspan class="it">X</tspan><tspan font-size="20" dy="5">10</tspan></text>
</g>
</g>
<text class="cj" x="1261" y="1142" text-anchor="middle" style="font-size:32px">影响因子</text>
<text class="cj" transform="translate(948,876) rotate(-90)" y="11" text-anchor="middle" style="font-size:32px">影响因子</text>
<text x="1356" y="798" style="font-size:30px"><tspan class="it">q</tspan>值</text>
<rect x="1353" y="817.4" width="33" height="218.6" fill="url(#cg)"/>
<path d="M1353,976.5h33M1353,1006h33" stroke="#fff" stroke-width="1"/>
<path d="M1389,817.4V1036M1389,817.4h6M1389,861.1h6M1389,904.8h6M1389,948.6h6M1389,992.3h6M1389,1036h6" stroke="#1a1a1a" stroke-width="2" fill="none"/>
<g class="lb"><text x="1402" y="828.4">0.745</text><text x="1402" y="872.1">0.597</text><text x="1402" y="915.8">0.448</text><text x="1402" y="959.6">0.298</text><text x="1402" y="1003.3">0.149</text><text x="1402" y="1047">0.002</text></g>

<!-- ================= PANEL F ================= -->
<text x="439" y="1183" style="font-size:32px">(f) “娱”要素</text>
<g transform="translate(428,1203.8)">
<g transform="scale(45.7,43.9)">
<rect x="0" y="0" width="1.02" height="1.02" fill="#f7b499"/><rect x="1" y="0" width="1.02" height="1.02" fill="#dcebbb"/><rect x="2" y="0" width="1.02" height="1.02" fill="#ebf0c4"/><rect x="3" y="0" width="1.02" height="1.02" fill="#a4d28b"/><rect x="4" y="0" width="1.02" height="1.02" fill="#b8db9b"/><rect x="5" y="0" width="1.02" height="1.02" fill="#a6d38c"/><rect x="6" y="0" width="1.02" height="1.02" fill="#66a86b"/><rect x="7" y="0" width="1.02" height="1.02" fill="#5f9d69"/><rect x="8" y="0" width="1.02" height="1.02" fill="#66a86b"/><rect x="9" y="0" width="1" height="1.02" fill="#5d976a"/>
<rect x="0" y="1" width="1.02" height="1.02" fill="#f28a7b"/><rect x="1" y="1" width="1.02" height="1.02" fill="#f8c0a0"/><rect x="2" y="1" width="1.02" height="1.02" fill="#f9c9a5"/><rect x="3" y="1" width="1.02" height="1.02" fill="#b5d99a"/><rect x="4" y="1" width="1.02" height="1.02" fill="#d0e6b3"/><rect x="5" y="1" width="1.02" height="1.02" fill="#b8db9b"/><rect x="6" y="1" width="1.02" height="1.02" fill="#6cb56a"/><rect x="7" y="1" width="1.02" height="1.02" fill="#66a86b"/><rect x="8" y="1" width="1" height="1.02" fill="#66a86b"/>
<rect x="0" y="2" width="1.02" height="1.02" fill="#f49a87"/><rect x="1" y="2" width="1.02" height="1.02" fill="#eaefc2"/><rect x="2" y="2" width="1.02" height="1.02" fill="#f4efc6"/><rect x="3" y="2" width="1.02" height="1.02" fill="#add693"/><rect x="4" y="2" width="1.02" height="1.02" fill="#d0e6b3"/><rect x="5" y="2" width="1.02" height="1.02" fill="#9bcf84"/><rect x="6" y="2" width="1.02" height="1.02" fill="#6cb56a"/><rect x="7" y="2" width="1" height="1.02" fill="#5d976a"/>
<rect x="0" y="3" width="1.02" height="1.02" fill="#f28074"/><rect x="1" y="3" width="1.02" height="1.02" fill="#f6a58e"/><rect x="2" y="3" width="1.02" height="1.02" fill="#f9caa6"/><rect x="3" y="3" width="1.02" height="1.02" fill="#bcdca0"/><rect x="4" y="3" width="1.02" height="1.02" fill="#b8db9b"/><rect x="5" y="3" width="1.02" height="1.02" fill="#add693"/><rect x="6" y="3" width="1" height="1.02" fill="#5d976a"/>
<rect x="0" y="4" width="1.02" height="1.02" fill="#f28074"/><rect x="1" y="4" width="1.02" height="1.02" fill="#f8b99b"/><rect x="2" y="4" width="1.02" height="1.02" fill="#f8b99b"/><rect x="3" y="4" width="1.02" height="1.02" fill="#cfe6b2"/><rect x="4" y="4" width="1.02" height="1.02" fill="#f6a890"/><rect x="5" y="4" width="1" height="1.02" fill="#8bc979"/>
<rect x="0" y="5" width="1.02" height="1.02" fill="#ee5252"/><rect x="1" y="5" width="1.02" height="1.02" fill="#ef5555"/><rect x="2" y="5" width="1.02" height="1.02" fill="#f28d7d"/><rect x="3" y="5" width="1.02" height="1.02" fill="#f9caa6"/><rect x="4" y="5" width="1" height="1.02" fill="#bcdca0"/>
<rect x="0" y="6" width="1.02" height="1.02" fill="#f6a58e"/><rect x="1" y="6" width="1.02" height="1.02" fill="#f9cca7"/><rect x="2" y="6" width="1.02" height="1.02" fill="#f9d7b0"/><rect x="3" y="6" width="1" height="1.02" fill="#9bcf84"/>
<rect x="0" y="7" width="1.02" height="1.02" fill="#f06e66"/><rect x="1" y="7" width="1.02" height="1.02" fill="#f28d7d"/><rect x="2" y="7" width="1" height="1.02" fill="#d6e9b7"/>
<rect x="0" y="8" width="1.02" height="1.02" fill="#f06a64"/><rect x="1" y="8" width="1" height="1.02" fill="#c4e0a8"/>
<rect x="0" y="9" width="1" height="1" fill="#f8c3a1"/>
</g>
<path d="M182.8,0V263.4" stroke="#fff" stroke-width="1"/>
<rect x="0" y="0" width="457" height="439" fill="none" stroke="#1a1a1a" stroke-width="2"/>
<path d="M0,21.95h11M0,65.85h11M0,109.75h11M0,153.65h11M0,197.55h11M0,241.45h11M0,285.35h11M0,329.25h11M0,373.15h11M0,417.05h11M22.85,439v-11M68.55,439v-11M114.25,439v-11M159.95,439v-11M205.65,439v-11M251.35,439v-11M297.05,439v-11M342.75,439v-11M388.45,439v-11M434.15,439v-11" stroke="#1a1a1a" stroke-width="2"/>
<g class="lb" text-anchor="end">
<text x="-10" y="28"><tspan class="it">X</tspan><tspan font-size="20" dy="3">10</tspan></text>
<text x="-10" y="73.9"><tspan class="it">X</tspan><tspan font-size="20" dy="6">9</tspan></text>
<text x="-10" y="117.8"><tspan class="it">X</tspan><tspan font-size="20" dy="6">8</tspan></text>
<text x="-10" y="161.7"><tspan class="it">X</tspan><tspan font-size="20" dy="6">7</tspan></text>
<text x="-10" y="205.6"><tspan class="it">X</tspan><tspan font-size="20" dy="6">6</tspan></text>
<text x="-10" y="249.5"><tspan class="it">X</tspan><tspan font-size="20" dy="6">5</tspan></text>
<text x="-10" y="293.4"><tspan class="it">X</tspan><tspan font-size="20" dy="6">4</tspan></text>
<text x="-10" y="337.3"><tspan class="it">X</tspan><tspan font-size="20" dy="6">3</tspan></text>
<text x="-10" y="381.2"><tspan class="it">X</tspan><tspan font-size="20" dy="6">2</tspan></text>
<text x="-10" y="425.1"><tspan class="it">X</tspan><tspan font-size="20" dy="6">1</tspan></text>
</g>
<g class="lb" text-anchor="middle">
<text x="24.9" y="469"><tspan class="it">X</tspan><tspan font-size="20" dy="5">1</tspan></text>
<text x="70.6" y="469"><tspan class="it">X</tspan><tspan font-size="20" dy="5">2</tspan></text>
<text x="116.3" y="469"><tspan class="it">X</tspan><tspan font-size="20" dy="5">3</tspan></text>
<text x="162" y="469"><tspan class="it">X</tspan><tspan font-size="20" dy="5">4</tspan></text>
<text x="207.7" y="469"><tspan class="it">X</tspan><tspan font-size="20" dy="5">5</tspan></text>
<text x="253.4" y="469"><tspan class="it">X</tspan><tspan font-size="20" dy="5">6</tspan></text>
<text x="299.1" y="469"><tspan class="it">X</tspan><tspan font-size="20" dy="5">7</tspan></text>
<text x="344.8" y="469"><tspan class="it">X</tspan><tspan font-size="20" dy="5">8</tspan></text>
<text x="390.5" y="469"><tspan class="it">X</tspan><tspan font-size="20" dy="5">9</tspan></text>
<text x="436.2" y="469"><tspan class="it">X</tspan><tspan font-size="20" dy="5">10</tspan></text>
</g>
</g>
<text class="cj" x="662" y="1716" text-anchor="middle" style="font-size:32px">影响因子</text>
<text class="cj" transform="translate(355,1451) rotate(-90)" y="11" text-anchor="middle" style="font-size:32px">影响因子</text>
<text x="757" y="1377" style="font-size:30px"><tspan class="it">q</tspan>值</text>
<rect x="756" y="1396" width="33" height="219" fill="url(#cg)"/>
<path d="M756,1418h33M756,1446h33M756,1578h33M756,1608h33" stroke="#fff" stroke-width="1"/>
<path d="M791,1396V1615M791,1396h6M791,1439.8h6M791,1483.6h6M791,1527.4h6M791,1571.2h6M791,1615h6" stroke="#1a1a1a" stroke-width="2" fill="none"/>
<g class="lb"><text x="802.5" y="1407">0.724</text><text x="802.5" y="1450.8">0.582</text><text x="802.5" y="1494.6">0.437</text><text x="802.5" y="1538.4">0.293</text><text x="802.5" y="1582.2">0.148</text><text x="802.5" y="1626">0.005</text></g>

<!-- ================= PANEL G ================= -->
<text x="1024" y="1183" style="font-size:32px">(g) “六要素”</text>
<g transform="translate(1024.7,1202.7)">
<g transform="scale(45.8,43.9)">
<rect x="0" y="0" width="1.02" height="1.02" fill="#f7ae96"/><rect x="1" y="0" width="1.02" height="1.02" fill="#fbdcb5"/><rect x="2" y="0" width="1.02" height="1.02" fill="#f6a68f"/><rect x="3" y="0" width="1.02" height="1.02" fill="#badc9e"/><rect x="4" y="0" width="1.02" height="1.02" fill="#8bc97b"/><rect x="5" y="0" width="1.02" height="1.02" fill="#aad48f"/><rect x="6" y="0" width="1.02" height="1.02" fill="#5d976a"/><rect x="7" y="0" width="1.02" height="1.02" fill="#5d976a"/><rect x="8" y="0" width="1.02" height="1.02" fill="#5d976a"/><rect x="9" y="0" width="1" height="1.02" fill="#5d976a"/>
<rect x="0" y="1" width="1.02" height="1.02" fill="#f6a690"/><rect x="1" y="1" width="1.02" height="1.02" fill="#f49a86"/><rect x="2" y="1" width="1.02" height="1.02" fill="#f2857a"/><rect x="3" y="1" width="1.02" height="1.02" fill="#c3e0a8"/><rect x="4" y="1" width="1.02" height="1.02" fill="#a9d48e"/><rect x="5" y="1" width="1.02" height="1.02" fill="#a9d48e"/><rect x="6" y="1" width="1.02" height="1.02" fill="#63a46a"/><rect x="7" y="1" width="1.02" height="1.02" fill="#63a46a"/><rect x="8" y="1" width="1" height="1.02" fill="#5d976a"/>
<rect x="0" y="2" width="1.02" height="1.02" fill="#f9c3a3"/><rect x="1" y="2" width="1.02" height="1.02" fill="#fbdcb6"/><rect x="2" y="2" width="1.02" height="1.02" fill="#f7b39a"/><rect x="3" y="2" width="1.02" height="1.02" fill="#b5d99a"/><rect x="4" y="2" width="1.02" height="1.02" fill="#a3d28a"/><rect x="5" y="2" width="1.02" height="1.02" fill="#95cd80"/><rect x="6" y="2" width="1.02" height="1.02" fill="#63a46a"/><rect x="7" y="2" width="1" height="1.02" fill="#5d976a"/>
<rect x="0" y="3" width="1.02" height="1.02" fill="#f38c7e"/><rect x="1" y="3" width="1.02" height="1.02" fill="#f27c72"/><rect x="2" y="3" width="1.02" height="1.02" fill="#f38c7e"/><rect x="3" y="3" width="1.02" height="1.02" fill="#cce4b0"/><rect x="4" y="3" width="1.02" height="1.02" fill="#97ce82"/><rect x="5" y="3" width="1.02" height="1.02" fill="#b8db9c"/><rect x="6" y="3" width="1" height="1.02" fill="#5d976a"/>
<rect x="0" y="4" width="1.02" height="1.02" fill="#f06c66"/><rect x="1" y="4" width="1.02" height="1.02" fill="#f59e8a"/><rect x="2" y="4" width="1.02" height="1.02" fill="#f06c66"/><rect x="3" y="4" width="1.02" height="1.02" fill="#eef2c8"/><rect x="4" y="4" width="1.02" height="1.02" fill="#fadfb5"/><rect x="5" y="4" width="1" height="1.02" fill="#8bc97b"/>
<rect x="0" y="5" width="1.02" height="1.02" fill="#f06a64"/><rect x="1" y="5" width="1.02" height="1.02" fill="#ee5252"/><rect x="2" y="5" width="1.02" height="1.02" fill="#f06c66"/><rect x="3" y="5" width="1.02" height="1.02" fill="#fadfb5"/><rect x="4" y="5" width="1" height="1.02" fill="#8bc97b"/>
<rect x="0" y="6" width="1.02" height="1.02" fill="#f6ab93"/><rect x="1" y="6" width="1.02" height="1.02" fill="#f7b59b"/><rect x="2" y="6" width="1.02" height="1.02" fill="#f6a690"/><rect x="3" y="6" width="1" height="1.02" fill="#acd591"/>
<rect x="0" y="7" width="1.02" height="1.02" fill="#ef5b5a"/><rect x="1" y="7" width="1.02" height="1.02" fill="#ef5b5a"/><rect x="2" y="7" width="1" height="1.02" fill="#f8c3a1"/>
<rect x="0" y="8" width="1.02" height="1.02" fill="#f07a6f"/><rect x="1" y="8" width="1" height="1.02" fill="#d6e9b7"/>
<rect x="0" y="9" width="1" height="1" fill="#f9d8b1"/>
</g>
<rect x="0" y="0" width="459" height="439" fill="none" stroke="#1a1a1a" stroke-width="2"/>
<path d="M0,21.95h11M0,65.85h11M0,109.75h11M0,153.65h11M0,197.55h11M0,241.45h11M0,285.35h11M0,329.25h11M0,373.15h11M0,417.05h11M22.9,439v-11M68.7,439v-11M114.5,439v-11M160.3,439v-11M206.1,439v-11M251.9,439v-11M297.7,439v-11M343.5,439v-11M389.3,439v-11M435.1,439v-11" stroke="#1a1a1a" stroke-width="2"/>
<g class="lb" text-anchor="end">
<text x="-10" y="28"><tspan class="it">X</tspan><tspan font-size="20" dy="3">10</tspan></text>
<text x="-10" y="73.9"><tspan class="it">X</tspan><tspan font-size="20" dy="6">9</tspan></text>
<text x="-10" y="117.8"><tspan class="it">X</tspan><tspan font-size="20" dy="6">8</tspan></text>
<text x="-10" y="161.7"><tspan class="it">X</tspan><tspan font-size="20" dy="6">7</tspan></text>
<text x="-10" y="205.6"><tspan class="it">X</tspan><tspan font-size="20" dy="6">6</tspan></text>
<text x="-10" y="249.5"><tspan class="it">X</tspan><tspan font-size="20" dy="6">5</tspan></text>
<text x="-10" y="293.4"><tspan class="it">X</tspan><tspan font-size="20" dy="6">4</tspan></text>
<text x="-10" y="337.3"><tspan class="it">X</tspan><tspan font-size="20" dy="6">3</tspan></text>
<text x="-10" y="381.2"><tspan class="it">X</tspan><tspan font-size="20" dy="6">2</tspan></text>
<text x="-10" y="425.1"><tspan class="it">X</tspan><tspan font-size="20" dy="6">1</tspan></text>
</g>
<g class="lb" text-anchor="middle">
<text x="24.9" y="469"><tspan class="it">X</tspan><tspan font-size="20" dy="5">1</tspan></text>
<text x="70.7" y="469"><tspan class="it">X</tspan><tspan font-size="20" dy="5">2</tspan></text>
<text x="116.5" y="469"><tspan class="it">X</tspan><tspan font-size="20" dy="5">3</tspan></text>
<text x="162.3" y="469"><tspan class="it">X</tspan><tspan font-size="20" dy="5">4</tspan></text>
<text x="208.1" y="469"><tspan class="it">X</tspan><tspan font-size="20" dy="5">5</tspan></text>
<text x="253.9" y="469"><tspan class="it">X</tspan><tspan font-size="20" dy="5">6</tspan></text>
<text x="299.7" y="469"><tspan class="it">X</tspan><tspan font-size="20" dy="5">7</tspan></text>
<text x="345.5" y="469"><tspan class="it">X</tspan><tspan font-size="20" dy="5">8</tspan></text>
<text x="391.3" y="469"><tspan class="it">X</tspan><tspan font-size="20" dy="5">9</tspan></text>
<text x="437.1" y="469"><tspan class="it">X</tspan><tspan font-size="20" dy="5">10</tspan></text>
</g>
</g>
<text class="cj" x="1261" y="1716" text-anchor="middle" style="font-size:32px">影响因子</text>
<text class="cj" transform="translate(946,1403) rotate(-90)" y="11" text-anchor="middle" style="font-size:32px">影响因子</text>
<text x="1355" y="1374" style="font-size:30px"><tspan class="it">q</tspan>值</text>
<rect x="1353" y="1394" width="33" height="218.7" fill="url(#cg)"/>
<path d="M1353,1424h33M1353,1453h33" stroke="#fff" stroke-width="1"/>
<path d="M1389,1394V1612.7M1389,1394h6M1389,1437.7h6M1389,1481.5h6M1389,1525.2h6M1389,1569h6M1389,1612.7h6" stroke="#1a1a1a" stroke-width="2" fill="none"/>
<g class="lb"><text x="1399.6" y="1405">0.767</text><text x="1399.6" y="1448.7">0.615</text><text x="1399.6" y="1492.5">0.462</text><text x="1399.6" y="1536.2">0.308</text><text x="1399.6" y="1580">0.155</text><text x="1399.6" y="1623.7">0.003</text></g>
</svg>
</body></html>
